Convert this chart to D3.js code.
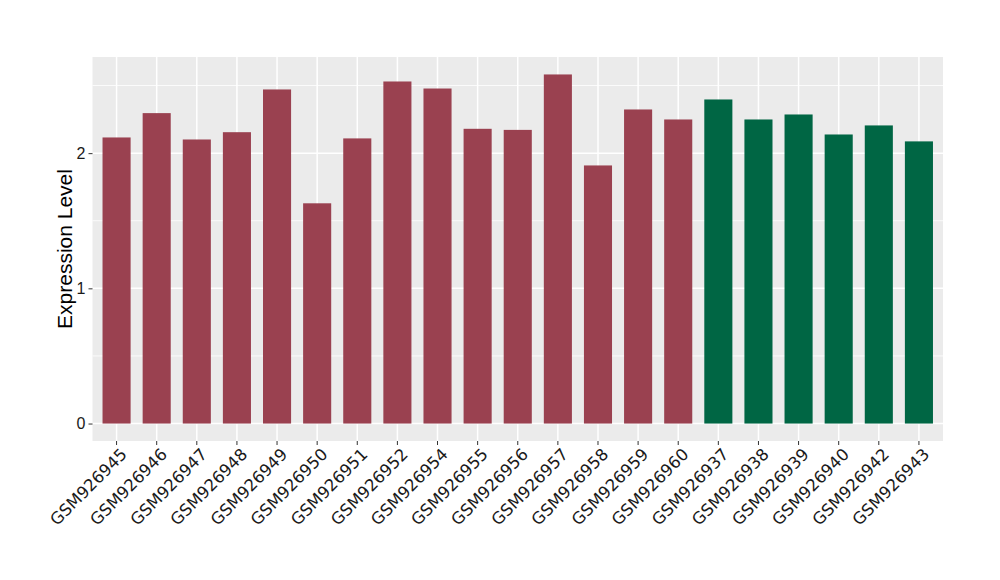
<!DOCTYPE html>
<html>
<head>
<meta charset="utf-8">
<script src="https://cdn.jsdelivr.net/npm/d3@7"></script>
<style>
  body { margin: 0; background: #fff; }
  svg { display: block; }
</style>
</head>
<body>
<svg id="chart" width="1000" height="580"></svg>
<script>
const samples = ["GSM926945","GSM926946","GSM926947","GSM926948","GSM926949","GSM926950","GSM926951","GSM926952","GSM926954","GSM926955","GSM926956","GSM926957","GSM926958","GSM926959","GSM926960","GSM926937","GSM926938","GSM926939","GSM926940","GSM926942","GSM926943"];
const values = [2.116,2.296,2.101,2.155,2.471,1.629,2.109,2.530,2.478,2.180,2.172,2.582,1.909,2.323,2.249,2.397,2.249,2.286,2.138,2.205,2.087];
const groups = ["A","A","A","A","A","A","A","A","A","A","A","A","A","A","A","B","B","B","B","B","B"];
const groupNames = ["A","B"];
const groupColors = ["#9a4150","#006644"];
const yTicks = [0,1,2];
const yMinor = [0.5,1.5,2.5];
const yTitle = "Expression Level";

const svg = d3.select("#chart");
const panel = {left: 92.5, right: 943, top: 57, bottom: 441};

const maxV = d3.max(values);
const span = maxV - 0;
const y = d3.scaleLinear()
  .domain([0 - span*0.05, maxV + span*0.05])
  .range([panel.bottom, panel.top]);

const x = d3.scaleBand()
  .domain(samples)
  .range([panel.left, panel.right])
  .paddingInner(0.3)
  .paddingOuter(0.25);

const color = d3.scaleOrdinal().domain(groupNames).range(groupColors);

// panel background
svg.append("rect")
  .attr("x", panel.left).attr("y", panel.top)
  .attr("width", panel.right - panel.left)
  .attr("height", panel.bottom - panel.top)
  .attr("fill", "#ebebeb");

// minor grid
svg.append("g").selectAll("line").data(yMinor).join("line")
  .attr("x1", panel.left).attr("x2", panel.right)
  .attr("y1", d => y(d)).attr("y2", d => y(d))
  .attr("stroke", "#ffffff").attr("stroke-width", 0.8);

// major grid y
svg.append("g").selectAll("line").data(yTicks).join("line")
  .attr("x1", panel.left).attr("x2", panel.right)
  .attr("y1", d => y(d)).attr("y2", d => y(d))
  .attr("stroke", "#ffffff").attr("stroke-width", 1.5);

// major grid x
svg.append("g").selectAll("line").data(samples).join("line")
  .attr("x1", d => x(d) + x.bandwidth()/2).attr("x2", d => x(d) + x.bandwidth()/2)
  .attr("y1", panel.top).attr("y2", panel.bottom)
  .attr("stroke", "#ffffff").attr("stroke-width", 1.5);

// bars
svg.append("g").selectAll("rect").data(samples).join("rect")
  .attr("x", d => x(d))
  .attr("width", x.bandwidth())
  .attr("y", (d,i) => y(values[i]))
  .attr("height", (d,i) => y(0) - y(values[i]))
  .attr("fill", (d,i) => color(groups[i]));

// y axis
const yAxis = d3.axisLeft(y).tickValues(yTicks).tickSize(4).tickPadding(3).tickFormat(d3.format("d"));
const gy = svg.append("g").attr("transform", `translate(${panel.left},0)`).call(yAxis);
gy.select(".domain").remove();
gy.selectAll(".tick line").attr("stroke", "#333333").attr("stroke-width", 1);
gy.selectAll(".tick text")
  .attr("font-family", "'Liberation Sans', Arial, sans-serif")
  .attr("font-size", 16).attr("fill", "#1a1a1a");

// x axis
const xAxis = d3.axisBottom(x).tickSize(4).tickPadding(2);
const gx = svg.append("g").attr("transform", `translate(0,${panel.bottom})`).call(xAxis);
gx.select(".domain").remove();
gx.selectAll(".tick line").attr("stroke", "#333333").attr("stroke-width", 1);
gx.selectAll(".tick text")
  .attr("font-family", "'DejaVu Sans', sans-serif")
  .attr("font-size", 16.5).attr("fill", "#1a1a1a")
  .attr("text-anchor", "end")
  .attr("y", null)
  .attr("transform", "translate(3,6) rotate(-45)")
  .attr("dy", "0.72em");

// y title
svg.append("text")
  .attr("transform", `translate(72,${(panel.top + panel.bottom)/2}) rotate(-90)`)
  .attr("text-anchor", "middle")
  .attr("font-family", "'Liberation Sans', Arial, sans-serif")
  .attr("font-size", 21).attr("fill", "#000")
  .text(yTitle);
</script>
</body>
</html>
